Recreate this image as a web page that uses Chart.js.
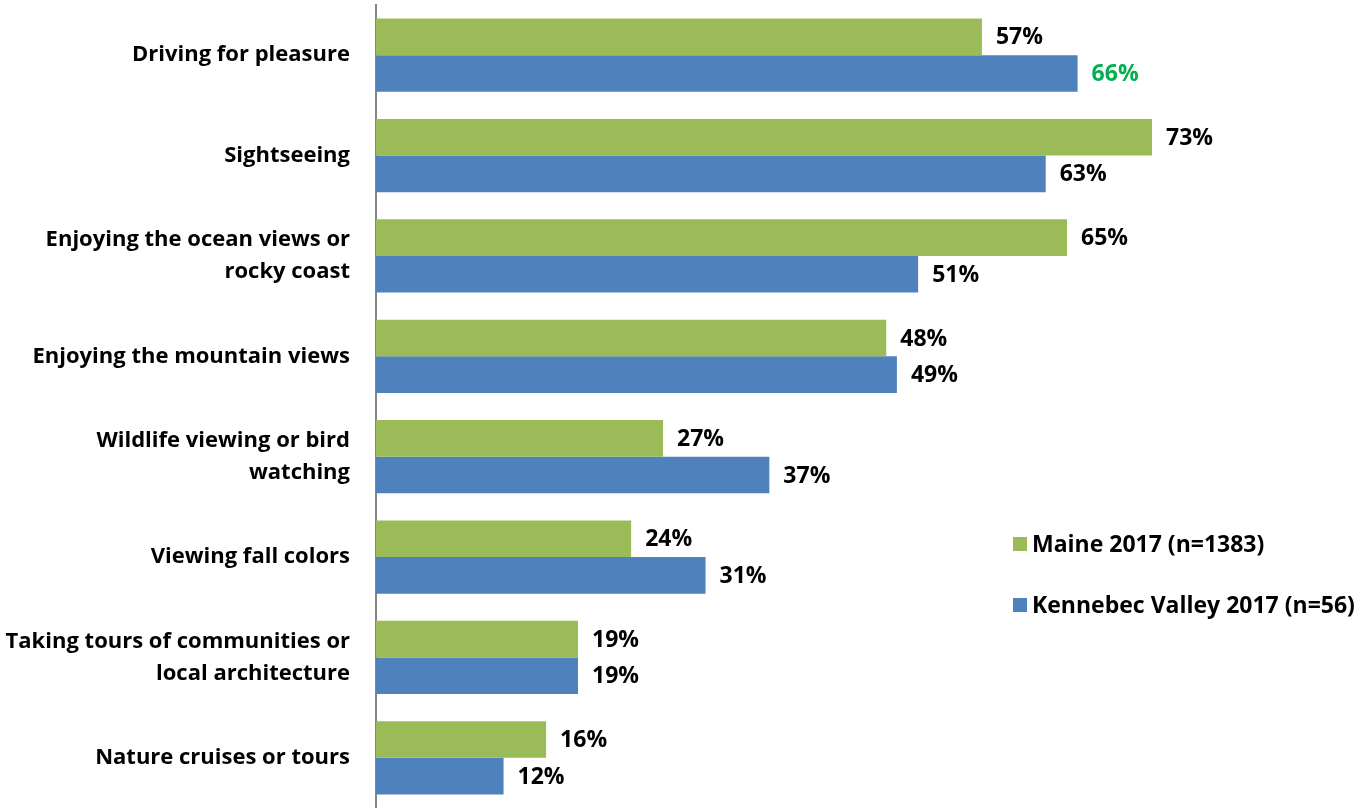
<!DOCTYPE html>
<html>
<head>
<meta charset="utf-8">
<script src="https://cdn.jsdelivr.net/npm/chart.js@4/dist/chart.umd.min.js"></script>
<style>
  html, body { margin: 0; padding: 0; background: #fff; }
  #wrap { position: relative; width: 1354px; height: 808px; }
</style>
</head>
<body>
<div id="wrap"><canvas id="activities"></canvas></div>
<script>
const categories = [
  'Driving for pleasure',
  'Sightseeing',
  ['Enjoying the ocean views or', 'rocky coast'],
  'Enjoying the mountain views',
  ['Wildlife viewing or bird', 'watching'],
  'Viewing fall colors',
  ['Taking tours of communities or', 'local architecture'],
  'Nature cruises or tours'
]
const maine2017     = [57, 73, 65, 48, 27, 24, 19, 16]
const kennebec2017  = [66, 63, 51, 49, 37, 31, 19, 12]
const seriesNames   = ['Maine 2017 (n=1383)', 'Kennebec Valley 2017 (n=56)']
const seriesColors  = ['#9BBB59', '#4F81BD']
// label colour per bar (one highlighted value)
const kennebecLabelColors = ['#00B050', '#000', '#000', '#000', '#000', '#000', '#000', '#000']

const FONT = '"Open Sans", Lato, sans-serif'

// value labels drawn just past the end of each bar
const valueLabels = {
  id: 'valueLabels',
  afterDatasetsDraw(chart) {
    const ctx = chart.ctx
    ctx.save()
    ctx.font = `bold 23px ${FONT}`
    ctx.textBaseline = 'middle'
    ctx.textAlign = 'left'
    chart.data.datasets.forEach((ds, di) => {
      chart.getDatasetMeta(di).data.forEach((bar, i) => {
        ctx.fillStyle = ds.labelColors ? ds.labelColors[i] : '#000'
        ctx.fillText(ds.data[i] + '%', bar.x + 14, bar.y + 1)
      })
    })
    ctx.restore()
  }
}

// legend box on the right side of the plot
const sideLegend = {
  id: 'sideLegend',
  afterDraw(chart) {
    const ctx = chart.ctx
    ctx.save()
    ctx.font = `bold 23px ${FONT}`
    ctx.textBaseline = 'middle'
    ctx.textAlign = 'left'
    const rows = [544, 605]
    seriesNames.forEach((name, i) => {
      ctx.fillStyle = seriesColors[i]
      ctx.fillRect(1013, rows[i] - 7, 14, 14)
      ctx.fillStyle = '#000'
      ctx.fillText(name, 1032, rows[i] + 1)
    })
    ctx.restore()
  }
}

new Chart(document.getElementById('activities'), {
  type: 'bar',
  data: {
    labels: categories,
    datasets: [
      { label: seriesNames[0], data: maine2017, backgroundColor: seriesColors[0] },
      { label: seriesNames[1], data: kennebec2017, backgroundColor: seriesColors[1], labelColors: kennebecLabelColors }
    ]
  },
  options: {
    indexAxis: 'y',
    responsive: true, maintainAspectRatio: false,
    animation: false,
    categoryPercentage: 0.73,
    barPercentage: 1.0,
    layout: { padding: { top: 5, right: 0, bottom: 0, left: 0 } },
    plugins: { legend: { display: false }, tooltip: { enabled: false } },
    scales: {
      x: { display: false, min: 0, max: 92 },
      y: {
        // fixed gutter for the category names, no extra vertical padding
        afterFit: s => { s.width = 376; s.paddingTop = 0; s.paddingBottom = 0 },
        grid: { display: false, drawTicks: false },
        border: { display: true, color: '#868686', width: 2 },
        ticks: {
          color: '#000',
          padding: 26,
          font: { family: FONT, size: 22, weight: 'bold', lineHeight: 1.45 }
        }
      }
    }
  },
  plugins: [valueLabels, sideLegend]
})
</script>
</body>
</html>
